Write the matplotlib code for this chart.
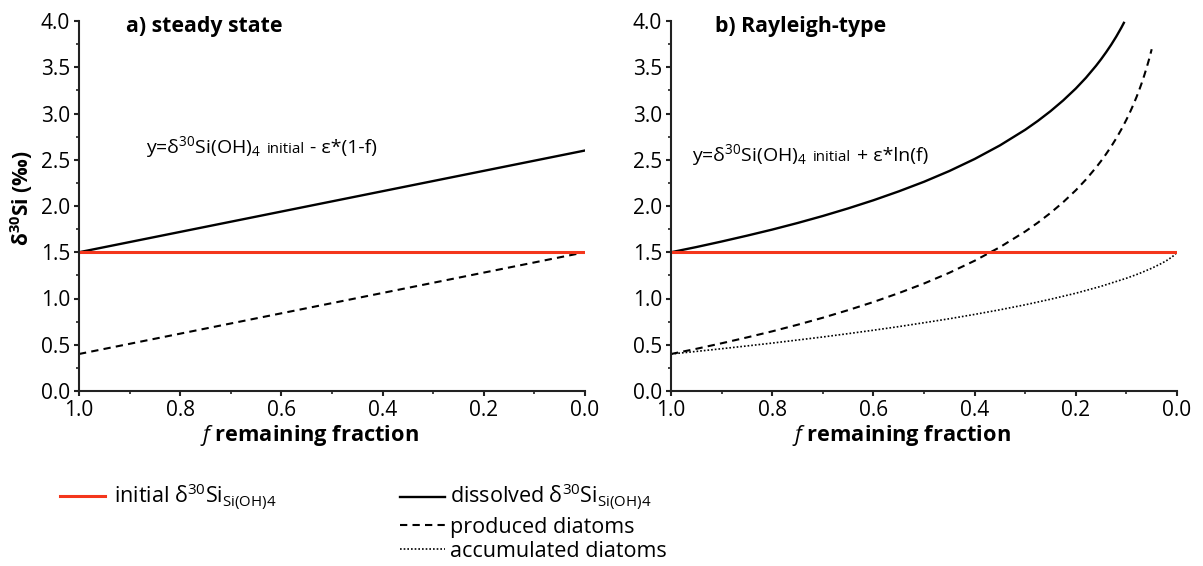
import matplotlib
matplotlib.use('Agg')
import matplotlib.pyplot as plt
from matplotlib.lines import Line2D
from matplotlib.offsetbox import TextArea, HPacker, AnnotationBbox
from matplotlib.ticker import MultipleLocator

plt.rcParams['font.family'] = ['Open Sans', 'DejaVu Sans']
plt.rcParams['mathtext.fontset'] = 'custom'
plt.rcParams['mathtext.rm'] = 'Open Sans'
plt.rcParams['mathtext.it'] = 'Open Sans:italic'
plt.rcParams['mathtext.bf'] = 'Open Sans:bold'

RED = '#f4361c'

# a) steady state (straight lines between f = 1 and f = 0)
ss_f = [1.0, 0.0]
ss_dissolved = [1.5, 2.6]
ss_produced = [0.4, 1.5]
initial_value = [1.5, 1.5]

# b) Rayleigh-type
ray_f_dissolved = [1.0, 0.95, 0.9, 0.85, 0.8, 0.75, 0.7, 0.65, 0.6, 0.55, 0.5,
                   0.45, 0.4, 0.35, 0.3, 0.275, 0.25, 0.225, 0.2, 0.18, 0.16,
                   0.15, 0.14, 0.13, 0.12, 0.11, 0.105]
ray_dissolved = [1.5, 1.556, 1.616, 1.679, 1.745, 1.816, 1.892, 1.974, 2.062,
                 2.158, 2.262, 2.378, 2.508, 2.655, 2.824, 2.920, 3.025, 3.141,
                 3.270, 3.386, 3.516, 3.587, 3.663, 3.744, 3.832, 3.928, 3.98]

ray_f_produced = [1.0, 0.95, 0.9, 0.85, 0.8, 0.75, 0.7, 0.65, 0.6, 0.55, 0.5,
                  0.45, 0.4, 0.35, 0.3, 0.275, 0.25, 0.225, 0.2, 0.18, 0.16,
                  0.15, 0.14, 0.13, 0.12, 0.11, 0.1, 0.095, 0.09, 0.085, 0.08,
                  0.075, 0.07, 0.065, 0.06, 0.055, 0.05]
ray_produced = [0.4, 0.456, 0.516, 0.579, 0.645, 0.716, 0.792, 0.874, 0.962,
                1.058, 1.162, 1.278, 1.408, 1.555, 1.724, 1.820, 1.925, 2.041,
                2.170, 2.286, 2.416, 2.487, 2.563, 2.644, 2.732, 2.828, 2.933,
                2.989, 3.049, 3.112, 3.178, 3.249, 3.325, 3.407, 3.495, 3.590,
                3.695]

ray_f_accumulated = [1.0, 0.95, 0.9, 0.85, 0.8, 0.75, 0.7, 0.65, 0.6, 0.55, 0.5,
                     0.45, 0.4, 0.35, 0.3, 0.25, 0.2, 0.15, 0.1, 0.075, 0.05,
                     0.03, 0.02, 0.01, 0.005, 0.0]
ray_accumulated = [0.4, 0.428, 0.457, 0.487, 0.518, 0.551, 0.584, 0.620, 0.657,
                   0.696, 0.738, 0.781, 0.828, 0.878, 0.932, 0.992, 1.057, 1.132,
                   1.219, 1.269, 1.327, 1.381, 1.412, 1.449, 1.471, 1.5]

W, H = 1203, 566
fig = plt.figure(figsize=(W / 100, H / 100), dpi=100)


def make_axes(left_px):
    ax = fig.add_axes([left_px / W, 1 - 391 / H, 506 / W, 370 / H])
    ax.set_xlim(1.0, 0.0)
    ax.set_ylim(0.0, 4.0)
    ax.xaxis.set_major_locator(MultipleLocator(0.2))
    ax.xaxis.set_minor_locator(MultipleLocator(0.1))
    ax.yaxis.set_major_locator(MultipleLocator(0.5))
    ax.yaxis.set_minor_locator(MultipleLocator(0.25))
    for side in ['top', 'right']:
        ax.spines[side].set_visible(False)
    for side in ['left', 'bottom']:
        ax.spines[side].set_linewidth(1.5)
        ax.spines[side].set_color('#222222')
    ax.tick_params(which='major', direction='out', length=3.5, width=1.5,
                   labelsize=15, pad=3, color='#222222')
    ax.tick_params(which='minor', direction='out', length=2.5, width=1.2,
                   color='#222222')
    ax.text(0.456, -0.119, r'$\mathit{f}$ remaining fraction', transform=ax.transAxes,
            ha='center', va='center', fontsize=15.7, fontweight='bold')
    return ax


def formula(ax, x, y, tail):
    parts = [TextArea(r'y=δ$^{30}$Si(OH)$_4$', textprops=dict(fontsize=14)),
             TextArea('initial', textprops=dict(fontsize=10.8)),
             TextArea(tail, textprops=dict(fontsize=14))]
    box = HPacker(children=parts, align='baseline', pad=0, sep=4)
    ab = AnnotationBbox(box, (x, y), xycoords='data', box_alignment=(0, 0.5),
                        frameon=False)
    ax.add_artist(ab)


ax1 = make_axes(79)
ax1.plot(ss_f, ss_dissolved, color='black', lw=1.7)
ax1.plot(ss_f, ss_produced, color='black', lw=1.5, linestyle=(0, (3.5, 2.5)))
ax1.plot(ss_f, initial_value, color=RED, lw=2.2)
ax1.text(0.093, 0.984, 'a) steady state', transform=ax1.transAxes,
         fontsize=15.3, fontweight='bold', va='center')
ax1.text(-0.113, 0.52, r'δ$^{\mathbf{30}}$Si (‰)', transform=ax1.transAxes,
         rotation=90, ha='center', va='center', fontsize=15, fontweight='bold')
formula(ax1, 0.868, 2.64, '- ε*(1-f)')

ax2 = make_axes(671)
ax2.plot(ray_f_dissolved, ray_dissolved, color='black', lw=1.7)
ax2.plot(ray_f_produced, ray_produced, color='black', lw=1.5,
         linestyle=(0, (3.5, 2.5)))
ax2.plot(ray_f_accumulated, ray_accumulated, color='black', lw=1.2,
         linestyle=(0, (1, 1.2)))
ax2.plot(ss_f, initial_value, color=RED, lw=2.2)
ax2.text(0.087, 0.984, 'b) Rayleigh-type', transform=ax2.transAxes,
         fontsize=15.3, fontweight='bold', va='center')
formula(ax2, 0.958, 2.55, '+ ε*ln(f)')

# legends below the panels
h_initial = Line2D([], [], color=RED, lw=2.2)
h_dissolved = Line2D([], [], color='black', lw=1.7)
h_produced = Line2D([], [], color='black', lw=1.5, linestyle=(0, (3.5, 2.5)))
h_accumulated = Line2D([], [], color='black', lw=1.2, linestyle=(0, (1, 1.2)))

fig.legend([h_initial], [r'initial δ$^{30}$Si$_{\mathrm{Si(OH)4}}$'],
           loc='center left', bbox_to_anchor=(60 / W, 1 - 497 / H),
           frameon=False, fontsize=15.5, handlelength=2.1, handletextpad=0.42,
           borderpad=0, borderaxespad=0)
fig.legend([h_dissolved, h_produced, h_accumulated],
           [r'dissolved δ$^{30}$Si$_{\mathrm{Si(OH)4}}$', 'produced diatoms',
            'accumulated diatoms'],
           loc='center left', bbox_to_anchor=(400 / W, 1 - 522 / H),
           frameon=False, fontsize=15.5, handlelength=2.1, handletextpad=0.22,
           labelspacing=0.15, borderpad=0, borderaxespad=0)

fig.savefig('out.png', dpi=100)
